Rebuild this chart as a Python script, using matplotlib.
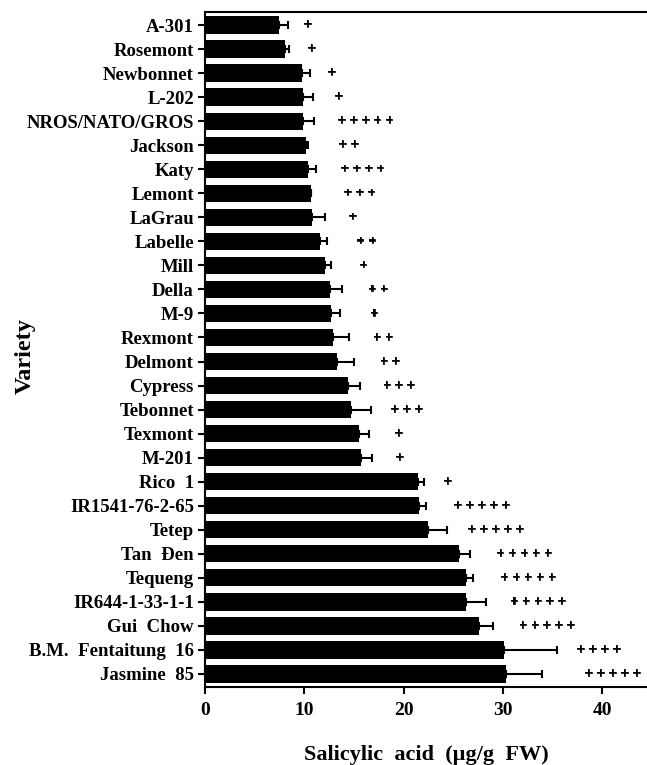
import matplotlib
matplotlib.use("Agg")
import matplotlib.pyplot as plt
import matplotlib.patheffects as pe

plt.rcParams["font.family"] = ["Liberation Serif", "DejaVu Serif"]
plt.rcParams["font.weight"] = "bold"

# Rice varieties, top to bottom
varieties = [
    "A-301", "Rosemont", "Newbonnet", "L-202", "NROS/NATO/GROS", "Jackson",
    "Katy", "Lemont", "LaGrau", "Labelle", "Mill", "Della", "M-9", "Rexmont",
    "Delmont", "Cypress", "Tebonnet", "Texmont", "M-201", "Rico  1",
    "IR1541-76-2-65", "Tetep", "Tan  Đen", "Tequeng", "IR644-1-33-1-1",
    "Gui  Chow", "B.M.  Fentaitung  16", "Jasmine  85",
]

# Mean salicylic acid content (ug/g FW)
sa_mean = [
    7.5, 8.1, 9.75, 9.9, 9.85, 10.2, 10.4, 10.7, 10.8, 11.55, 12.1, 12.55,
    12.65, 12.85, 13.3, 14.4, 14.75, 15.5, 15.7, 21.5, 21.6, 22.45, 25.6,
    26.25, 26.3, 27.6, 30.15, 30.3,
]

# Standard error (upper side only)
sa_err = [
    0.9, 0.4, 0.8, 1.0, 1.1, 0.2, 0.75, 0.0, 1.25, 0.75, 0.55, 1.2, 0.95,
    1.65, 1.7, 1.2, 2.0, 1.0, 1.1, 0.55, 0.7, 1.95, 1.1, 0.7, 1.95, 1.4,
    5.3, 3.6,
]

# Resistance rating shown as plus marks
rating = [1, 1, 1, 1, 5, 2, 4, 3, 1, 2, 1, 2, 1, 2, 2, 3, 3, 1, 1, 1,
          5, 5, 5, 5, 5, 5, 4, 5]

# Left edge of each rating string, in x-data units
rating_x = [
    9.9, 10.3, 12.3, 13.0, 13.3, 13.4, 13.6, 13.9, 14.4, 15.2, 15.5, 16.4,
    16.6, 16.9, 17.6, 17.9, 18.7, 19.1, 19.2, 24.0, 25.0, 26.4, 29.3, 29.7,
    30.7, 31.6, 37.4, 38.2,
]

x_ticks = [0, 10, 20, 30, 40]

W, H = 647, 765
fig = plt.figure(figsize=(W / 100, H / 100), dpi=100)
ax = fig.add_axes([205 / W, 1 - 686.7 / H, 1 - 205 / W, (686.7 - 12.3) / H])

ypos = list(range(len(varieties)))
ax.barh(ypos, sa_mean, height=0.72, color="black", zorder=2)
ax.errorbar(sa_mean, ypos, xerr=[[0] * len(sa_err), sa_err], fmt="none",
            ecolor="black", elinewidth=1.5, capsize=3, capthick=1.5, zorder=3)

thick = [pe.withStroke(linewidth=0.5, foreground="black")]
for y, n, x in zip(ypos, rating, rating_x):
    ax.text(x, y, " ".join(["+"] * n), ha="left", va="center",
            fontsize=10.5, fontweight="bold", color="black",
            path_effects=thick)

ax.set_xlim(0, (W - 205) / 9.93)
ax.set_ylim(len(varieties) - 0.47, -0.53)
ax.set_yticks(ypos)
ax.set_yticklabels(varieties, fontsize=13.5, fontweight="bold")
ax.set_xticks(x_ticks)
ax.set_xticklabels([str(t) for t in x_ticks], fontsize=14, fontweight="bold")

ax.tick_params(axis="both", direction="out", length=5, width=1.5,
               color="black", pad=3)
ax.tick_params(axis="x", pad=6)
for side in ("left", "bottom", "top"):
    ax.spines[side].set_linewidth(1.5)
ax.spines["right"].set_visible(False)

ax.set_xlabel("Salicylic  acid  (µg/g  FW)", fontsize=16, fontweight="bold",
              labelpad=19)
fig.text(25 / W, 1 - 356 / H, "Variety", rotation=90, ha="center",
         va="center", fontsize=17.5, fontweight="bold")

fig.savefig("out.png", dpi=100)
